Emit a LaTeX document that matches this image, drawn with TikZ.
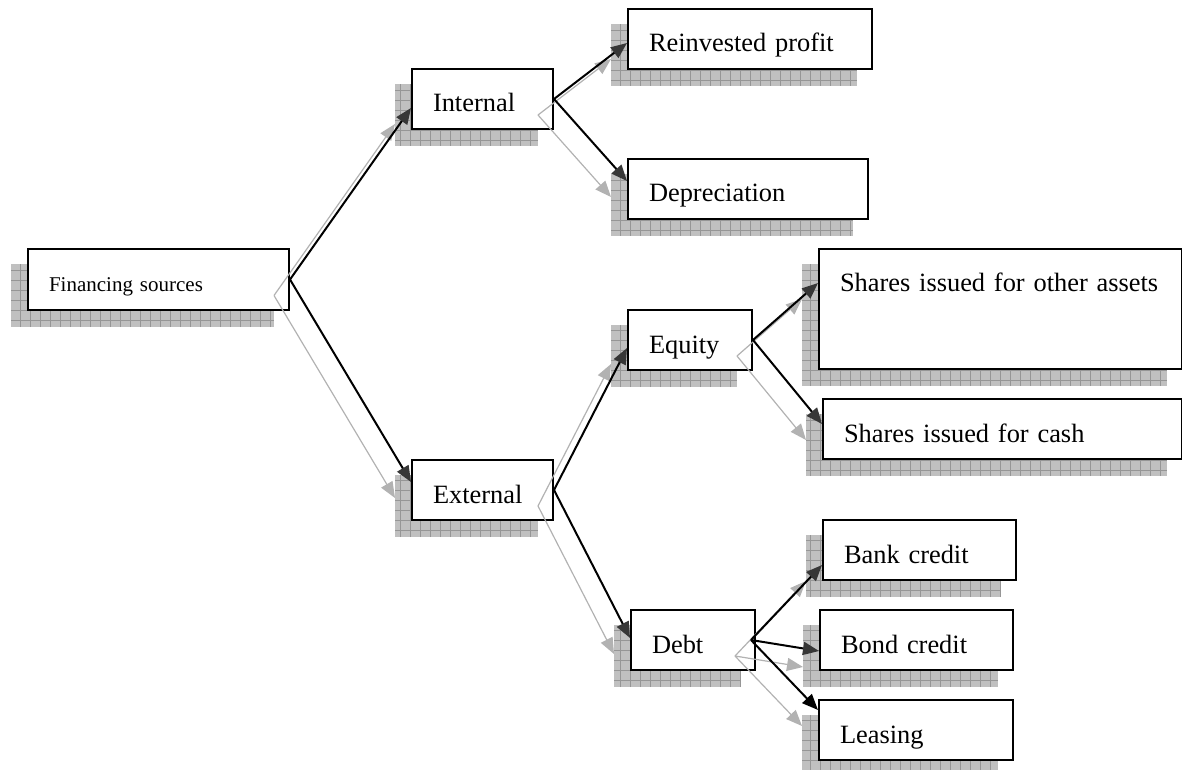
\documentclass[tikz,border=0pt]{standalone}
\usepackage{fontspec}
\setmainfont{Liberation Serif}
\usetikzlibrary{arrows.meta, backgrounds}
\definecolor{shadowgray}{RGB}{192, 192, 192}
\definecolor{gridgray}{RGB}{150, 150, 150}
\definecolor{linkgray}{RGB}{178, 178, 178}
\definecolor{tipdark}{RGB}{55, 55, 55}
\tikzstyle{box} = [draw, fill=white, line width=1pt, anchor=north west, inner xsep=10.5pt, inner ysep=0pt,
                   text height=21.5pt, text depth=8.5pt, align=left, font=\fontsize{13.2}{16}\selectfont]
\tikzstyle{link} = [line width=1pt, -{Triangle[length=8pt, width=6.5pt, color=tipdark]}]
\tikzstyle{shadowlink} = [line width=0.6pt, linkgray, -{Triangle[length=8pt, width=6.5pt]}]

\begin{document}
\begin{tikzpicture}[x=0.5pt, y=-0.5pt]
    \useasboundingbox (0, 0) rectangle (1182, 770);

    % Root
    \node[box, text width=109.5pt, text depth=9pt, font=\fontsize{10.5}{12}\selectfont] (fin) at (27, 248) {Financing sources};

    % Internal / External
    \node[box, text width=49.5pt] (internal) at (411, 68) {Internal};
    \node[box, text width=49.5pt] (external) at (411, 459) {External};

    % Internal sources
    \node[box, text width=101pt] (reinvested) at (627, 8) {Reinvested profit};
    \node[box, text width=99pt] (depreciation) at (627, 158) {Depreciation};

    % External sources
    \node[box, text width=41pt] (equity) at (627, 309) {Equity};
    \node[box, text width=41pt] (debt) at (630, 609) {Debt};

    % Equity
    \node[box, text width=160.5pt, text depth=38.5pt] (other) at (818, 248) {Shares issued for other assets};
    \node[box, text width=158.5pt] (cash) at (822, 398) {Shares issued for cash};

    % Debt
    \node[box, text width=75.5pt] (bank) at (822, 519) {Bank credit};
    \node[box, text width=75.5pt] (bond) at (819, 609) {Bond credit};
    \node[box, text width=76pt] (leasing) at (818, 699) {Leasing};

    % Shadows
    \begin{scope}[on background layer]
        \foreach \n in {fin, internal, external, reinvested, depreciation, equity, debt, other, cash, bank, bond, leasing} {
            \fill[shadowgray] ([shift={(-8pt,-8pt)}]\n.north west) rectangle ([shift={(-8pt,-8pt)}]\n.south east);
            \draw[gridgray, line width=0.4pt, step=5pt] ([shift={(-8pt,-8pt)}]\n.north west) grid ([shift={(-8pt,-8pt)}]\n.south east);
        }
    \end{scope}

    % Shadow connectors
    \draw[shadowlink] ([shift={(-8pt,-8pt)}]fin.east) -- ([xshift=-8pt, yshift=-12.5pt]internal.west);
    \draw[shadowlink] ([shift={(-8pt,-8pt)}]fin.east) -- ([xshift=-8pt, yshift=-4pt]external.west);
    \draw[shadowlink] ([shift={(-8pt,-8pt)}]internal.east) -- ([xshift=-8pt, yshift=-10pt]reinvested.west);
    \draw[shadowlink] ([shift={(-8pt,-8pt)}]internal.east) -- ([xshift=-8pt, yshift=-4pt]depreciation.west);
    \draw[shadowlink] ([shift={(-8pt,-8pt)}]external.east) -- ([xshift=-8pt, yshift=-12pt]equity.west);
    \draw[shadowlink] ([shift={(-8pt,-8pt)}]external.east) -- ([xshift=-8pt, yshift=-7pt]debt.west);
    \draw[shadowlink] ([shift={(-8pt,-8pt)}]equity.east) -- ([xshift=-8pt, yshift=5pt]other.west);
    \draw[shadowlink] ([shift={(-8pt,-8pt)}]equity.east) -- ([xshift=-8pt, yshift=-5.5pt]cash.west);
    \draw[shadowlink] ([shift={(-10.5pt,-8pt)}]debt.east) -- ([xshift=-8pt, yshift=-15.5pt]bank.west);
    \draw[shadowlink] ([shift={(-10.5pt,-8pt)}]debt.east) -- ([xshift=-8pt, yshift=-13.5pt]bond.west);
    \draw[shadowlink] ([shift={(-10.5pt,-8pt)}]debt.east) -- ([xshift=-8pt, yshift=2pt]leasing.west);

    % Connectors
    \draw[link] (fin.east) -- ([yshift=-4.5pt]internal.west);
    \draw[link] (fin.east) -- ([yshift=4pt]external.west);
    \draw[link] (internal.east) -- ([yshift=-2pt]reinvested.west);
    \draw[link] (internal.east) -- ([yshift=4pt]depreciation.west);
    \draw[link] (external.east) -- ([yshift=-4pt]equity.west);
    \draw[link] (external.east) -- ([yshift=1pt]debt.west);
    \draw[link] (equity.east) -- ([yshift=13pt]other.west);
    \draw[link] (equity.east) -- ([yshift=2.5pt]cash.west);
    \draw[link] ([xshift=-2.5pt]debt.east) -- ([yshift=-7.5pt]bank.west);
    \draw[link] ([xshift=-2.5pt]debt.east) -- ([yshift=-5.5pt]bond.west);
    \draw[link, -{Triangle[length=8pt, width=6.5pt]}] ([xshift=-2.5pt]debt.east) -- ([yshift=10pt]leasing.west);
\end{tikzpicture}
\end{document}
